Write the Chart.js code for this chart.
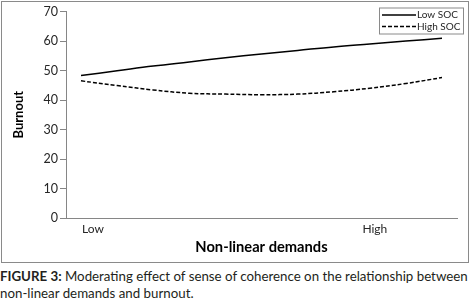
<!DOCTYPE html>
<html>
<head>
<meta charset="utf-8">
<script src="https://cdn.jsdelivr.net/npm/chart.js@4/dist/chart.umd.min.js"></script>
<style>
  html, body { margin:0; padding:0; background:#fff; width:470px; height:300px; overflow:hidden; }
  #frame { position:absolute; left:1px; top:1px; width:468px; height:262px; box-sizing:border-box; border:1px solid #8a8a8a; }
  #frame canvas { display:block; }
  #caption { position:absolute; left:0; top:268px; width:470px; font-family:Lato, "Open Sans", sans-serif; font-size:13.3px; line-height:17px; color:#231f20; white-space:nowrap; }
  #caption b { font-weight:bold; }
</style>
</head>
<body>
<div id="frame"><canvas id="c" width="466" height="260"></canvas></div>
<div id="caption"><b>FIGURE 3:</b> Moderating effect of sense of coherence on the relationship between<br>non-linear demands and burnout.</div>
<script>
// ---- data ----
const demandLevels = [0, 1, 2, 3, 4, 5, 6, 7, 8, 9, 10];
const lowSOC  = [48.3, 49.9, 51.5, 52.9, 54.3, 55.6, 56.8, 58.0, 59.0, 60.0, 60.9];
const highSOC = [46.5, 44.9, 43.4, 42.3, 42.0, 41.8, 42.0, 42.8, 44.0, 45.6, 47.6];
const seriesNames = ['Low SOC', 'High SOC'];
const xTickValues = [0.33, 8.14];
const xTickLabels = ['Low', 'High'];
const yTickValues = [0, 10, 20, 30, 40, 50, 60, 70];
const xTitle = 'Non-linear demands';
const yTitle = 'Burnout';

const FONT = 'Lato, "Open Sans", sans-serif';
const AXIS = '#868686';
const TEXT = '#262626';

const legendBox = {
  id: 'legendBox',
  afterDraw(chart) {
    const ctx = chart.ctx, a = chart.chartArea;
    const w = 84, h = 26;
    const x0 = a.right + 6 - w, y0 = a.top - 4;
    ctx.save();
    ctx.fillStyle = '#fff';
    ctx.fillRect(x0, y0, w, h);
    ctx.strokeStyle = '#8a8a8a';
    ctx.lineWidth = 1;
    ctx.strokeRect(x0 + 0.5, y0 + 0.5, w, h);
    chart.data.datasets.forEach((ds, i) => {
      const y = y0 + 7.5 + i * 11.5;
      ctx.beginPath();
      ctx.setLineDash(ds.borderDash || []);
      ctx.strokeStyle = ds.borderColor;
      ctx.lineWidth = ds.borderWidth;
      ctx.moveTo(x0 + 3, y);
      ctx.lineTo(x0 + 37, y);
      ctx.stroke();
      ctx.setLineDash([]);
      ctx.fillStyle = TEXT;
      ctx.font = '10px ' + FONT;
      ctx.textBaseline = 'middle';
      ctx.textAlign = 'left';
      ctx.fillText(ds.label, x0 + 38, y);
    });
    ctx.restore();
  }
};

new Chart(document.getElementById('c'), {
  type: 'line',
  data: {
    datasets: [
      { label: seriesNames[0], data: demandLevels.map((x, i) => ({x, y: lowSOC[i]})),
        borderColor: '#000', borderWidth: 1.5, pointRadius: 0, tension: 0.4, fill: false },
      { label: seriesNames[1], data: demandLevels.map((x, i) => ({x, y: highSOC[i]})),
        borderColor: '#000', borderWidth: 1.5, borderDash: [4, 2], pointRadius: 0, tension: 0.4, fill: false }
    ]
  },
  options: {
    responsive: false,
    animation: false,
    devicePixelRatio: 1,
    layout: { padding: { left: 0, right: 11, top: 7, bottom: 0 } },
    plugins: { legend: { display: false }, tooltip: { enabled: false } },
    scales: {
      x: {
        type: 'linear', min: -0.415, max: 10.415,
        afterBuildTicks: s => { s.ticks = xTickValues.map(v => ({ value: v })); },
        afterFit: s => { s.height = 44; },
        grid: { display: false, drawTicks: false },
        border: { display: true, color: AXIS, width: 1 },
        ticks: { autoSkip: false, maxRotation: 0, padding: 4, color: TEXT,
                 font: { family: FONT, size: 12 },
                 callback: (v, i) => xTickLabels[i] },
        title: { display: true, text: xTitle, color: '#000',
                 font: { family: FONT, size: 14.7, weight: 'bold' }, padding: { top: 0, bottom: 6 } }
      },
      y: {
        min: 0, max: 70,
        afterBuildTicks: s => { s.ticks = yTickValues.map(v => ({ value: v })); },
        afterFit: s => { s.width = 64; },
        grid: { display: true, drawOnChartArea: false, drawTicks: true, tickLength: 6, color: AXIS },
        border: { display: true, color: AXIS, width: 1 },
        ticks: { padding: 2, color: TEXT, font: { family: FONT, size: 12.5 } },
        title: { display: true, text: yTitle, color: '#000',
                 font: { family: FONT, size: 13, weight: 'bold' }, padding: { top: 9, bottom: 0 } }
      }
    }
  },
  plugins: [legendBox]
});
</script>
</body>
</html>
